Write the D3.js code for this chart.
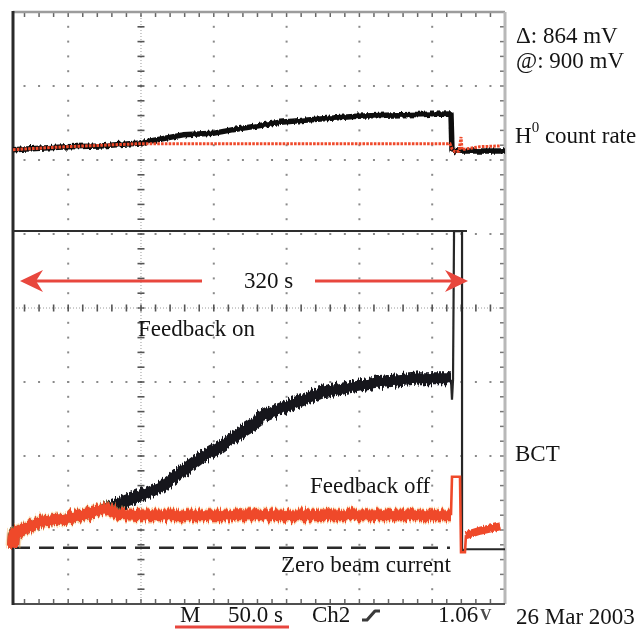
<!DOCTYPE html>
<html>
<head>
<meta charset="utf-8">
<script src="https://cdn.jsdelivr.net/npm/d3@7/dist/d3.min.js"></script>
<style>
  html, body { margin: 0; padding: 0; background: #fff; }
  svg { display: block; }
  text { font-family: "Liberation Serif", "Times New Roman", serif; fill: #141414; }
</style>
</head>
<body>
<svg id="scope" width="644" height="629"></svg>
<script>
// Time is seconds from the left edge of the screen (50 s/div),
// level is in graticule divisions, 0 = screen centre line.

// Ch1: H0 count rate, free run (black) and with feedback (red)
const h0Free = [
  [0, 2.14], [37.1, 2.18], [59.8, 2.19], [87.2, 2.23], [100.9, 2.28], [116.8, 2.34],
  [137.4, 2.36], [151.1, 2.41], [167.6, 2.46], [183.4, 2.51], [208.8, 2.55], [236.3, 2.59],
  [265.8, 2.61], [300.8, 2.62], [301.5, 2.14], [305.0, 2.12], [337.9, 2.12]
];
const h0Held = [
  [0, 2.14], [37.1, 2.18], [87.2, 2.22], [162.8, 2.22], [300.1, 2.22], [301.5, 2.15],
  [303.6, 2.11], [306.3, 2.12], [307.7, 2.31], [308.4, 2.14], [311.1, 2.15], [320.7, 2.18],
  [334.5, 2.19]
];

// Ch2: BCT beam current, without feedback (black)
const bctFree = [
  [0, -3.24], [0.7, -3.04], [2.7, -3.03], [18.5, -2.89], [39.1, -2.84], [59.8, -2.73],
  [64.6, -2.70], [70.1, -2.66], [87.9, -2.53], [101.0, -2.42], [114.7, -2.23], [128.4, -2.03],
  [142.2, -1.88], [155.9, -1.69], [167.6, -1.55], [169.6, -1.47], [190.2, -1.31], [210.9, -1.15],
  [231.5, -1.07], [252.1, -1.00], [279.5, -0.95], [300.8, -0.95]
];
// beam dump: trace runs off screen and settles on zero
const bctDump = [
  [300.8, -0.97], [301.5, -1.24], [302.2, -0.97], [302.9, 1.04], [308.4, 1.04],
  [308.4, -3.28], [310.4, -3.26], [337.9, -3.26]
];

// Ch2: BCT beam current, with feedback (red)
const bctHeld = [
  [0, -3.24], [0.7, -3.06], [2.7, -3.03], [18.5, -2.89], [39.1, -2.84], [59.8, -2.73],
  [64.6, -2.72], [71.4, -2.78], [87.9, -2.80], [128.4, -2.80], [197.1, -2.80], [300.8, -2.80]
];
const bctHeldStep = [
  [300.8, -2.80], [301.5, -2.28], [307.0, -2.28], [307.7, -3.30], [310.4, -3.30], [311.1, -3.07]
];
const bctHeldTail = [[311.1, -3.07], [320.7, -3.01], [334.5, -2.95]];

// reference levels
const zeroCurrent = -3.24;
const clipLevel = 1.04;
const clipEnd = 311.8;
const zeroEnd = 300.1;

// annotation arrow: beam time span
const spanLevel = 0.365;
const spanStart = 4.8;
const spanEnd = 312.5;

const svg = d3.select("#scope");
const x = d3.scaleLinear().domain([0, 337.9]).range([13, 505]);
const y = d3.scaleLinear().domain([-4, 4]).range([604, 12]);

const RED = "#ef4a2c";
const ARROW = "#e8463e";

// ---- filters: trace noise texture and slight softness
const defs = svg.append("defs");
function jitterFilter(id, freq, scale) {
  const f = defs.append("filter").attr("id", id)
    .attr("x", "-5%").attr("y", "-60%").attr("width", "110%").attr("height", "220%");
  f.append("feTurbulence").attr("type", "fractalNoise")
    .attr("baseFrequency", freq).attr("numOctaves", 2).attr("seed", 4).attr("result", "n");
  f.append("feColorMatrix").attr("in", "n").attr("type", "matrix")
    .attr("values", "0 0 0 0 0.5  0 1 0 0 0  0 0 0 0 0  0 0 0 0 1").attr("result", "m");
  f.append("feDisplacementMap").attr("in", "SourceGraphic").attr("in2", "m")
    .attr("scale", scale).attr("xChannelSelector", "R").attr("yChannelSelector", "G");
}
jitterFilter("jitter", "0.6 0.03", 11);
jitterFilter("jitterSmall", "0.5 0.03", 5);

const soft = defs.append("filter").attr("id", "soft");
soft.append("feGaussianBlur").attr("stdDeviation", 0.45);

// ---- graticule
const minorT = d3.range(7.9, 338, 10);
const majorT = d3.range(37.9, 300, 50);
const minorV = d3.range(-4, 4.001, 0.2);
const rowsV = d3.range(-3, 4, 1);
const centreT = 87.9;

const grid = svg.append("g").attr("filter", "url(#soft)");

// dotted division rows
rowsV.filter(v => v !== 0).forEach(v => {
  grid.selectAll(null).data(minorT).join("rect")
    .attr("x", t => x(t) - 1).attr("y", y(v) - 1)
    .attr("width", 2).attr("height", 2).attr("fill", "#8a8a8a");
});
// dotted division columns
majorT.filter(t => Math.abs(t - centreT) > 1).forEach(t => {
  grid.selectAll(null).data(minorV.slice(1, -1)).join("rect")
    .attr("x", x(t) - 1).attr("y", v => y(v) - 1)
    .attr("width", 2).attr("height", 2).attr("fill", "#8a8a8a");
});
// centre axes with minor ticks
grid.append("line").attr("x1", x(centreT)).attr("x2", x(centreT))
  .attr("y1", y(4)).attr("y2", y(-4))
  .attr("stroke", "#9a9a9a").attr("stroke-width", 1).attr("stroke-dasharray", "1,2");
grid.selectAll(null).data(minorV.slice(1, -1)).join("line")
  .attr("x1", x(centreT) - 3.5).attr("x2", x(centreT) + 3.5)
  .attr("y1", v => y(v)).attr("y2", v => y(v))
  .attr("stroke", "#555").attr("stroke-width", 1.6);
grid.append("line").attr("x1", x(0)).attr("x2", x(337.9))
  .attr("y1", y(0)).attr("y2", y(0))
  .attr("stroke", "#9a9a9a").attr("stroke-width", 1).attr("stroke-dasharray", "1,2");
grid.selectAll(null).data(minorT).join("line")
  .attr("x1", t => x(t)).attr("x2", t => x(t))
  .attr("y1", y(0) - 3.5).attr("y2", y(0) + 3.5)
  .attr("stroke", "#555").attr("stroke-width", 1.6);

// border ticks
grid.selectAll(null).data(minorT).join("line")
  .attr("x1", t => x(t)).attr("x2", t => x(t))
  .attr("y1", y(4) + 1).attr("y2", y(4) + 5)
  .attr("stroke", "#666").attr("stroke-width", 1.5);
grid.selectAll(null).data(minorT).join("line")
  .attr("x1", t => x(t)).attr("x2", t => x(t))
  .attr("y1", y(-4) - 1).attr("y2", y(-4) - 5)
  .attr("stroke", "#666").attr("stroke-width", 1.5);
grid.selectAll(null).data(minorV.slice(1, -1)).join("line")
  .attr("x1", x(337.9) - 1).attr("x2", x(337.9) - 5)
  .attr("y1", v => y(v)).attr("y2", v => y(v))
  .attr("stroke", "#777").attr("stroke-width", 1.5);

// screen frame
const frame = svg.append("g").attr("filter", "url(#soft)");
frame.append("line").attr("x1", x(0)).attr("x2", x(337.9)).attr("y1", y(4)).attr("y2", y(4))
  .attr("stroke", "#9c9c9c").attr("stroke-width", 2.5);
frame.append("line").attr("x1", x(337.9)).attr("x2", x(337.9)).attr("y1", y(4)).attr("y2", y(-4))
  .attr("stroke", "#b8b8b8").attr("stroke-width", 3);
frame.append("line").attr("x1", x(0)).attr("x2", x(337.9)).attr("y1", y(-4)).attr("y2", y(-4))
  .attr("stroke", "#505050").attr("stroke-width", 2.2);
frame.append("line").attr("x1", x(0)).attr("x2", x(0)).attr("y1", y(4) - 1).attr("y2", y(-4) + 1)
  .attr("stroke", "#2a2a2a").attr("stroke-width", 3);

// ---- traces
const line = d3.line().x(d => x(d[0])).y(d => y(d[1]));
const traces = svg.append("g").attr("filter", "url(#soft)");

// a noisy band: solid core plus a ragged outer layer
function band(data, colour, core, outer, filterId) {
  traces.append("path").datum(data).attr("d", line)
    .attr("fill", "none").attr("stroke", colour).attr("stroke-width", outer)
    .attr("stroke-linejoin", "round").attr("filter", `url(#${filterId})`);
  traces.append("path").datum(data).attr("d", line)
    .attr("fill", "none").attr("stroke", colour).attr("stroke-width", core)
    .attr("stroke-linejoin", "round");
}

// clip level of the BCT channel
traces.append("line").attr("x1", x(0)).attr("x2", x(clipEnd))
  .attr("y1", y(clipLevel)).attr("y2", y(clipLevel))
  .attr("stroke", "#2e2e2e").attr("stroke-width", 2);

// zero beam current reference
traces.append("line").attr("x1", x(0) + 2).attr("x2", x(zeroEnd))
  .attr("y1", y(zeroCurrent)).attr("y2", y(zeroCurrent))
  .attr("stroke", "#2a2a2a").attr("stroke-width", 2.6).attr("stroke-dasharray", "15,9");

// H0 count rate
band(h0Free, "#111", 3.6, 5.5, "jitterSmall");
traces.append("path").datum(h0Held).attr("d", line)
  .attr("fill", "none").attr("stroke", RED).attr("stroke-width", 3)
  .attr("stroke-dasharray", "2.6,1.2");

// BCT without feedback
traces.append("path").datum(bctDump).attr("d", line)
  .attr("fill", "none").attr("stroke", "#262626").attr("stroke-width", 2.2);
band(bctFree, "#15151c", 8, 12, "jitter");

// BCT with feedback
traces.append("path").datum(bctHeld).attr("d", line)
  .attr("fill", "none").attr("stroke", "#f7b45e").attr("stroke-width", 15).attr("opacity", 0.45)
  .attr("filter", "url(#jitter)");
band(bctHeld, RED, 8, 12, "jitter");
traces.append("path").datum(bctHeldStep).attr("d", line)
  .attr("fill", "none").attr("stroke", RED).attr("stroke-width", 2.6);
band(bctHeldTail, RED, 5, 8, "jitterSmall");

// ---- time span arrow
const arr = svg.append("g").attr("filter", "url(#soft)");
const ay = y(spanLevel);
function head(tipX, dir) {
  const L = 23, W = 11, notch = 7;
  return `M${tipX},${ay} L${tipX + dir * L},${ay - W} L${tipX + dir * (L - notch)},${ay} L${tipX + dir * L},${ay + W} Z`;
}
arr.append("line").attr("x1", x(spanStart) + 12).attr("x2", 202).attr("y1", ay).attr("y2", ay)
  .attr("stroke", ARROW).attr("stroke-width", 3.2);
arr.append("line").attr("x1", 315).attr("x2", x(spanEnd) - 12).attr("y1", ay).attr("y2", ay)
  .attr("stroke", ARROW).attr("stroke-width", 3.2);
arr.append("path").attr("d", head(x(spanStart), 1)).attr("fill", ARROW);
arr.append("path").attr("d", head(x(spanEnd), -1)).attr("fill", ARROW);

// ---- labels
const fs = 23;
function label(tx, ty, s, anchor) {
  return svg.append("text").attr("x", tx).attr("y", ty).attr("font-size", fs)
    .attr("text-anchor", anchor || "start").text(s);
}
label(244, 288, "320 s");
label(138, 336, "Feedback on");
label(310, 493, "Feedback off");
label(281, 572, "Zero beam current");

label(516, 43, "\u0394: 864 mV");
label(516, 68, "@: 900 mV");
const h0 = svg.append("text").attr("x", 515).attr("y", 143).attr("font-size", fs);
h0.append("tspan").text("H");
h0.append("tspan").attr("font-size", 15).attr("dy", -11).text("0");
h0.append("tspan").attr("dy", 11).text(" count rate");
label(515, 461, "BCT");

// readout line under the screen
label(180, 622, "M");
label(228, 622, "50.0 s");
svg.append("line").attr("x1", 175).attr("x2", 289).attr("y1", 627).attr("y2", 627)
  .attr("stroke", ARROW).attr("stroke-width", 3);
label(312, 622, "Ch2");
svg.append("path").attr("d", "M362,620 L367,620 L375,611 L380,611")
  .attr("fill", "none").attr("stroke", "#3a3a3a").attr("stroke-width", 3.2)
  .attr("stroke-linejoin", "round");
label(438, 622, "1.06");
svg.append("text").attr("x", 480).attr("y", 620).attr("font-size", 16)
  .attr("font-family", "Liberation Sans, Arial, sans-serif").attr("font-weight", "bold")
  .style("fill", "#4a4a4a").text("V");
label(516, 624, "26 Mar 2003");
</script>
</body>
</html>
